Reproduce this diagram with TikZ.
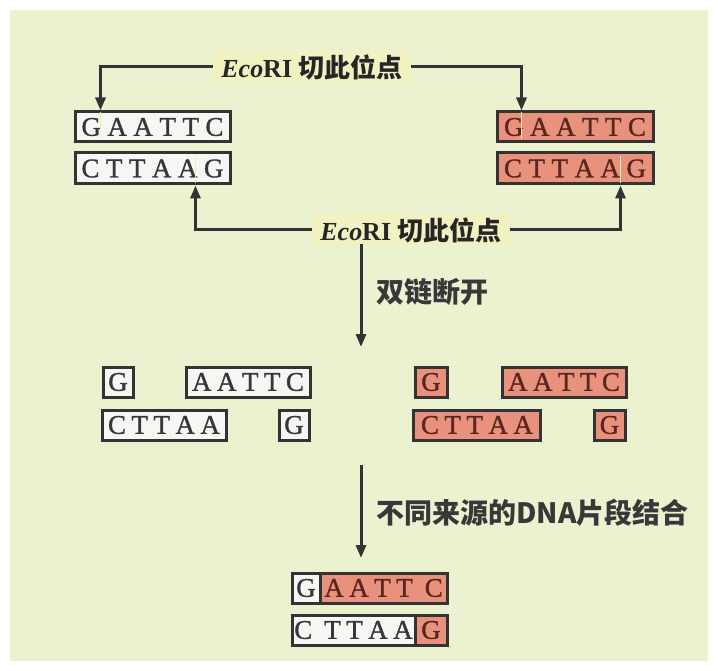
\documentclass[tikz,border=0pt]{standalone}
\usepackage{fontspec}
\setmainfont{Liberation Serif}
\newfontfamily\dnafont[FakeBold=1.2]{Liberation Serif}
\newfontfamily\cjk{Noto Sans CJK SC}
\usetikzlibrary{arrows.meta,calc}
\definecolor{bgcol}{HTML}{EAF2D0}
\definecolor{boxline}{HTML}{333333}
\definecolor{salmon}{HTML}{E8917C}
\definecolor{whitebox}{HTML}{F6F7F2}
\definecolor{txtdark}{HTML}{33383D}
\definecolor{txtred}{HTML}{5A2620}
\definecolor{labbg}{HTML}{F2F1C2}
\definecolor{cutcol}{HTML}{F7EFA6}
\newcommand\ls{\kern6.5pt}
\newcommand\lsm{\kern5.5pt}
\tikzset{
  dna/.style={draw=boxline, line width=3pt, minimum height=30pt, inner sep=0pt,
              font=\dnafont\fontsize{27}{27}\selectfont, anchor=center},
  wb/.style={dna, fill=whitebox, text=txtdark},
  rb/.style={dna, fill=salmon, text=txtred},
  lab/.style={fill=labbg, inner xsep=8pt, inner ysep=3pt, text=black!85,
              font=\fontsize{26}{26}\selectfont},
  cjklab/.style={text=black!78, font=\cjk\bfseries\fontsize{28}{28}\selectfont, inner sep=0pt, anchor=west},
  arr/.style={draw=boxline, line width=3pt, -{Triangle[length=13pt,width=10pt]}},
  cut/.style={draw=cutcol, line width=1.8pt}
}
\begin{document}
\begin{tikzpicture}[x=1pt,y=-1pt]
\useasboundingbox (0,0) rectangle (718,671);
\fill[white] (0,0) rectangle (718,671);
\fill[bgcol] (10,10) rectangle (708,661);

% top row
\node[wb, minimum width=155pt, minimum height=30pt] (tl1) at (152.5,127) {G\ls A\ls A\ls T\ls T\ls C};
\node[wb, minimum width=155pt, minimum height=31pt] (tl2) at (152.5,168.5) {C\ls T\ls T\ls A\ls A\ls G};
\node[rb, minimum width=156pt, minimum height=30pt] (tr1) at (575,127) {G\ls A\ls A\ls T\ls T\ls C};
\node[rb, minimum width=156pt, minimum height=31pt] (tr2) at (575,168.5) {C\ls T\ls T\ls A\ls A\ls G};

% cut marks
\coordinate (c1) at ($(tl1.north west)+(27,0)$);
\coordinate (c2) at ($(tl2.south west)+(122,0)$);
\coordinate (c3) at ($(tr1.north west)+(26,0)$);
\coordinate (c4) at ($(tr2.south west)+(125,0)$);
\draw[cut] ($(c1)+(0,2)$) -- ($(c1)+(0,28)$);
\draw[cut] ($(c2)+(0,-2)$) -- ($(c2)+(0,-29)$);
\draw[cut] ($(c3)+(0,2)$) -- ($(c3)+(0,28)$);
\draw[cut] ($(c4)+(0,-2)$) -- ($(c4)+(0,-29)$);

% labels
\node[lab] (lab1) at (312,67) {\textbf{\textit{Eco}RI} {\cjk\bfseries 切此位点}};
\node[lab] (lab2) at (411,230) {\textbf{\textit{Eco}RI} {\cjk\bfseries 切此位点}};

\draw[arr] (lab1.west) -| (c1);
\draw[arr] (lab1.east) -| (c3);
\draw[arr] (lab2.west) -| (c2);
\draw[arr] (lab2.east) -| (c4);

% first step arrow
\coordinate (a1s) at (361,244);
\coordinate (a1e) at (361,347);
\draw[arr] (a1s) -- (a1e);
\node[cjklab] (l3) at (376,292) {双链断开};

% middle row
\node[wb, minimum width=30pt] (mg1) at (118,382) {G};
\node[wb, minimum width=124pt] (ma1) at (248,382) {A\lsm A\lsm T\lsm T\lsm C};
\node[wb, minimum width=124pt] (mc1) at (164,425) {C\lsm T\lsm T\lsm A\lsm A};
\node[wb, minimum width=30pt] (mg2) at (294,425) {G};
\node[rb, minimum width=32pt] (mg3) at (431,382) {G};
\node[rb, minimum width=124pt] (ma2) at (564,382) {A\lsm A\lsm T\lsm T\lsm C};
\node[rb, minimum width=127pt] (mc2) at (477,425) {C\lsm T\lsm T\lsm A\lsm A};
\node[rb, minimum width=31pt] (mg4) at (609.5,425) {G};

% second step arrow
\coordinate (a2s) at (361,465);
\coordinate (a2e) at (361,558);
\draw[arr] (a2s) -- (a2e);
\node[cjklab] (l4) at (376,513) {不同来源的DNA片段结合};

% bottom row
\node[rb, minimum width=127pt] (ba) at (383.5,588) {A\lsm A\lsm T\lsm T\kern12pt C};
\node[wb, minimum width=28pt] (bg1) at (306,588) {G};
\node[wb, minimum width=123pt] (bc) at (353.5,630) {C\kern12pt T\lsm T\lsm A\lsm A};
\node[rb, minimum width=32pt] (bg2) at (431,630) {G};
\end{tikzpicture}
\end{document}
